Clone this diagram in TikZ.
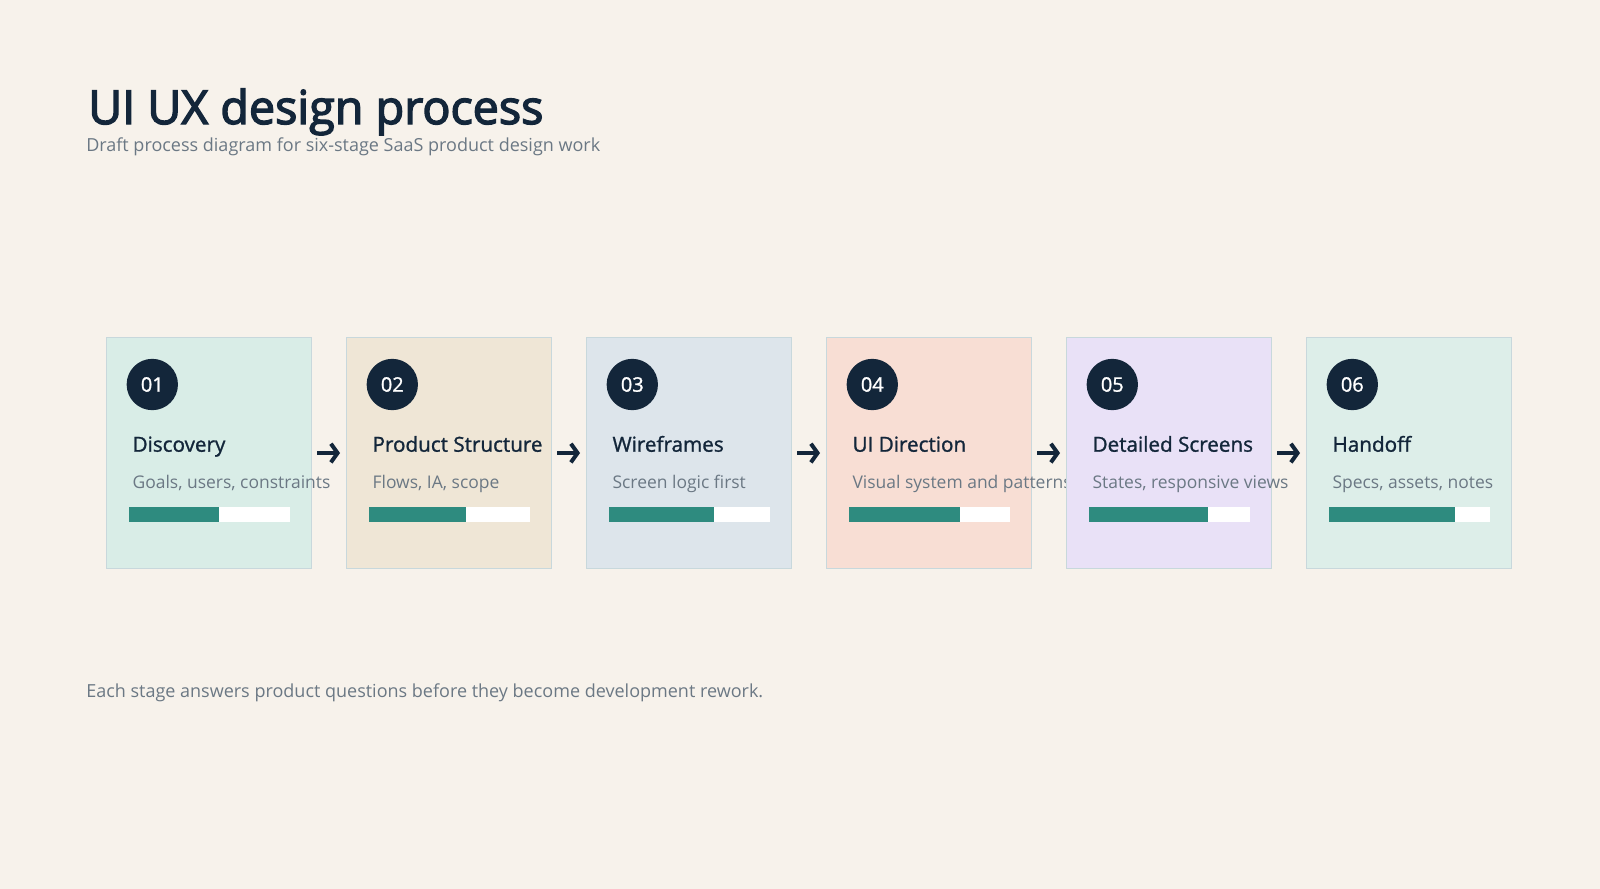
\documentclass[tikz,border=0pt]{standalone}
\usepackage{fontspec}
\setmainfont{Open Sans}
\newfontfamily\medfont{Open Sans}[FakeBold=1.2]
\newfontfamily\headfont{Open Sans}[FakeBold=3]
\usetikzlibrary{arrows.meta}
\definecolor{bg}{HTML}{F7F2EB}
\definecolor{ink}{HTML}{13263A}
\definecolor{muted}{HTML}{6B7884}
\definecolor{edge}{HTML}{C8D8DC}
\definecolor{tealbar}{HTML}{2E8B7F}
\definecolor{cA}{HTML}{D9EDE7}
\definecolor{cB}{HTML}{EFE6D6}
\definecolor{cC}{HTML}{DDE5EB}
\definecolor{cD}{HTML}{F8DED4}
\definecolor{cE}{HTML}{E9E1F7}
\definecolor{cF}{HTML}{DDEEE9}
\tikzset{
  card/.style={draw=edge, line width=1.1pt, minimum width=153.75pt, minimum height=173pt, inner sep=0, outer sep=0, anchor=north west},
  badge/.style={circle, fill=ink, text=white, minimum size=38.5pt, inner sep=0, font=\medfont\fontsize{15}{16}\selectfont},
  cardtitle/.style={anchor=base west, inner sep=0, text=ink, font=\medfont\fontsize{15.5}{18}\selectfont},
  carddesc/.style={anchor=base west, inner sep=0, text=muted, font=\fontsize{13.1}{16}\selectfont},
  barbg/.style={fill=white, minimum width=121pt, minimum height=11pt, inner sep=0, outer sep=0, anchor=north west},
  barfill/.style={fill=tealbar, minimum height=11pt, inner sep=0, outer sep=0, anchor=north west},
  flow/.style={draw=ink, line width=3pt, -{Straight Barb[length=5pt,width=14pt]}, shorten <=4pt, shorten >=5pt},
  plain/.style={anchor=base west, inner sep=0}
}
\begin{document}
\begin{tikzpicture}[x=0.75pt,y=-0.75pt]
\fill[bg] (0,0) rectangle (1600,889);
\useasboundingbox (0,0) rectangle (1600,889);
\node[plain, text=ink, font=\headfont\fontsize{35}{40}\selectfont] (title) at (88,124) {UI UX design process};
\node[plain, text=muted, font=\fontsize{13.5}{16}\selectfont] (subtitle) at (86,151) {Draft process diagram for six-stage SaaS product design work};
\foreach \i/\nm/\ds/\col/\fr in {
  1/Discovery/{Goals, users, constraints}/cA/0.56,
  2/Product Structure/{Flows, IA, scope}/cB/0.60,
  3/Wireframes/{Screen logic first}/cC/0.65,
  4/UI Direction/{Visual system and patterns}/cD/0.69,
  5/Detailed Screens/{States, responsive views}/cE/0.74,
  6/Handoff/{Specs, assets, notes}/cF/0.78} {
  \pgfmathsetmacro\L{106.7+240*(\i-1)}
  \pgfmathsetmacro\W{121*\fr}
  \node[card, fill=\col] (c\i) at (\L,337.7) {};
  \node[badge] (n\i) at (\L+45.6,384.5) {0\i};
  \node[cardtitle] (t\i) at (\L+25.6,451.7) {\nm};
  \node[carddesc] (d\i) at (\L+25.6,488) {\ds};
  \node[barbg] (b\i) at (\L+22,507) {};
  \node[barfill, minimum width=\W pt] (f\i) at (b\i.north west) {};
}
\foreach \a/\b in {1/2,2/3,3/4,4/5,5/6} {
  \draw[flow] (c\a.east) -- (c\b.west);
}
\node[plain, text=muted, font=\fontsize{13.5}{16}\selectfont] (footer) at (86,697) {Each stage answers product questions before they become development rework.};
\end{tikzpicture}
\end{document}
